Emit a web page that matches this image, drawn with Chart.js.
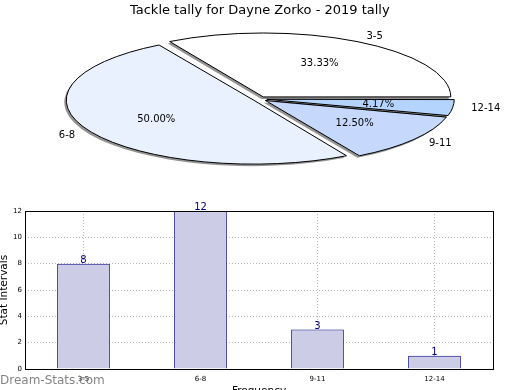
<!DOCTYPE html>
<html><head><meta charset="utf-8">
<script src="https://cdn.jsdelivr.net/npm/chart.js@4.4.1/dist/chart.umd.min.js"></script>
<style>
html,body{margin:0;padding:0;background:#fff;overflow:hidden;}
#wrap{position:relative;width:520px;height:390px;overflow:hidden;background:#fff;}
#pie{position:absolute;left:0;top:0;}
#bar{position:absolute;left:0;top:195px;}
</style></head><body>
<div id="wrap">
<canvas id="bar" width="520" height="205"></canvas>
<canvas id="pie" width="520" height="200"></canvas>
</div>
<script>
const chartTitle = 'Tackle tally for Dayne Zorko - 2019 tally';
const categories = ['3-5', '6-8', '9-11', '12-14'];
const tallies = [8, 12, 3, 1];
const sliceColors = ['#ffffff', '#e9f0fe', '#c6d9fd', '#b4d4fe'];
const yTicks = [0, 2, 4, 6, 8, 10, 12];
const xTitle = 'Frequency';
const yTitle = 'Stat Intervals';
const watermark = 'Dream-Stats.com';

const FAMILY = '"DejaVu Sans", "Liberation Sans", sans-serif';
Chart.defaults.font.family = FAMILY;
Chart.defaults.color = '#000';

const K = 0.341;      // vertical squash of the pie (ellipse)
const OFFSET = 28;    // Chart.js arc offset (translation = OFFSET/4)

const ellipsePlugin = {
  id: 'ellipsePie',
  beforeDatasetsDraw(chart) {
    const ctx = chart.ctx;
    const meta = chart.getDatasetMeta(0);
    const R = meta.controller.outerRadius;
    meta.data.forEach(a => {
      const fix = 1 - Math.sin(Math.min(Math.PI, a.circumference));
      a.outerRadius = R - (OFFSET / 4) * fix;
    });
    const cy = meta.data[0].y;
    ctx.save();
    const base = ctx.getTransform();
    ctx.translate(0, cy);
    ctx.scale(1, -K);
    ctx.translate(0, -cy);
    ctx.shadowColor = 'rgba(0,0,0,0.42)';
    ctx.shadowOffsetX = -2;
    ctx.shadowOffsetY = 2;
    ctx.shadowBlur = 0;
    const orig = CanvasRenderingContext2D.prototype.stroke;
    ctx.stroke = function (...args) {
      this.save();
      this.setTransform(base);
      this.shadowColor = 'rgba(0,0,0,0)';
      orig.apply(this, args);
      this.restore();
    };
  },
  afterDatasetsDraw(chart) {
    const ctx = chart.ctx;
    delete ctx.stroke;
    ctx.restore();
    const meta = chart.getDatasetMeta(0);
    const R = meta.controller.outerRadius;
    const total = tallies.reduce((s, v) => s + v, 0);
    const t = OFFSET / 4;
    ctx.save();
    ctx.font = '10px ' + FAMILY;
    ctx.fillStyle = '#000';
    ctx.textBaseline = 'middle';
    meta.data.forEach((a, i) => {
      const mid = (a.startAngle + a.endAngle) / 2;
      const c = Math.cos(mid), s = Math.sin(mid);
      const ex = a.x + c * t, ey = a.y - s * t * K;
      ctx.textAlign = c >= 0 ? 'left' : 'right';
      ctx.fillText(categories[i], ex + c * 1.1 * R, ey - s * 1.1 * R * K);
      ctx.textAlign = 'center';
      ctx.fillText((tallies[i] / total * 100).toFixed(2) + '%', ex + c * 0.6 * R, ey - s * 0.6 * R * K);
    });
    ctx.restore();
  }
};

new Chart(document.getElementById('pie'), {
  type: 'pie',
  data: {
    labels: categories,
    datasets: [{
      data: tallies,
      backgroundColor: sliceColors,
      borderColor: '#000',
      borderWidth: 1,
      offset: OFFSET,
      clip: false
    }]
  },
  options: {
    responsive: false,
    animation: false,
    events: [],
    rotation: 90,
    radius: 187.5,
    layout: { padding: { left: 0, right: 0.4, top: 0, bottom: 20.6 } },
    plugins: {
      legend: { display: false },
      tooltip: { enabled: false },
      title: {
        display: true, text: chartTitle, color: '#000',
        font: { size: 13, weight: 'normal', family: FAMILY },
        padding: { top: 3, bottom: 0 }
      }
    }
  },
  plugins: [ellipsePlugin]
});

const barExtras = {
  id: 'barExtras',
  afterDatasetsDraw(chart) {
    const ctx = chart.ctx;
    const ca = chart.chartArea;
    ctx.save();
    ctx.strokeStyle = '#000';
    ctx.lineWidth = 1;
    ctx.strokeRect(Math.round(ca.left) + 0.5, Math.round(ca.top) + 0.5,
      Math.round(ca.right - ca.left), Math.round(ca.bottom - ca.top));
    const meta = chart.getDatasetMeta(0);
    ctx.font = '10px ' + FAMILY;
    ctx.fillStyle = '#000080';
    ctx.textAlign = 'center';
    ctx.textBaseline = 'alphabetic';
    meta.data.forEach((b, i) => {
      ctx.fillText(String(tallies[i]), b.x, b.y - 1);
    });
    ctx.restore();
  },
  afterDraw(chart) {
    const ctx = chart.ctx;
    ctx.save();
    ctx.font = '12px ' + FAMILY;
    ctx.fillStyle = 'rgba(110,110,110,0.85)';
    ctx.textAlign = 'left';
    ctx.textBaseline = 'middle';
    ctx.fillText(watermark, 0, 185.5);
    ctx.restore();
  }
};

new Chart(document.getElementById('bar'), {
  type: 'bar',
  data: {
    labels: categories,
    datasets: [{
      data: tallies,
      backgroundColor: '#ccccE6',
      borderColor: '#000080',
      borderWidth: 1,
      barPercentage: 0.45,
      categoryPercentage: 1
    }]
  },
  options: {
    responsive: false,
    animation: false,
    events: [],
    layout: { padding: { top: 16, right: 27, left: 0, bottom: 0 } },
    plugins: { legend: { display: false }, tooltip: { enabled: false } },
    scales: {
      x: {
        grid: { offset: false, color: '#b8b8b8', drawTicks: false },
        border: { display: false, dash: [1, 2] },
        ticks: { font: { size: 7, family: FAMILY }, color: '#000', padding: 6, maxRotation: 0 },
        title: { display: true, text: xTitle, color: '#000', font: { size: 10.5, family: FAMILY }, padding: { top: 0, bottom: 2 } },
        afterFit(s) { s.height = 31; }
      },
      y: {
        min: 0, max: 12,
        afterBuildTicks(s) { s.ticks = yTicks.map(v => ({ value: v })); },
        grid: { color: '#b8b8b8', drawTicks: false },
        border: { display: false, dash: [1, 2] },
        ticks: { font: { size: 7, family: FAMILY }, color: '#000', padding: 3 },
        title: { display: true, text: yTitle, color: '#000', font: { size: 10.5, family: FAMILY }, padding: { top: -2, bottom: 0 } },
        afterFit(s) { s.width = 25; }
      }
    }
  },
  plugins: [barExtras]
});
</script>
</body></html>
